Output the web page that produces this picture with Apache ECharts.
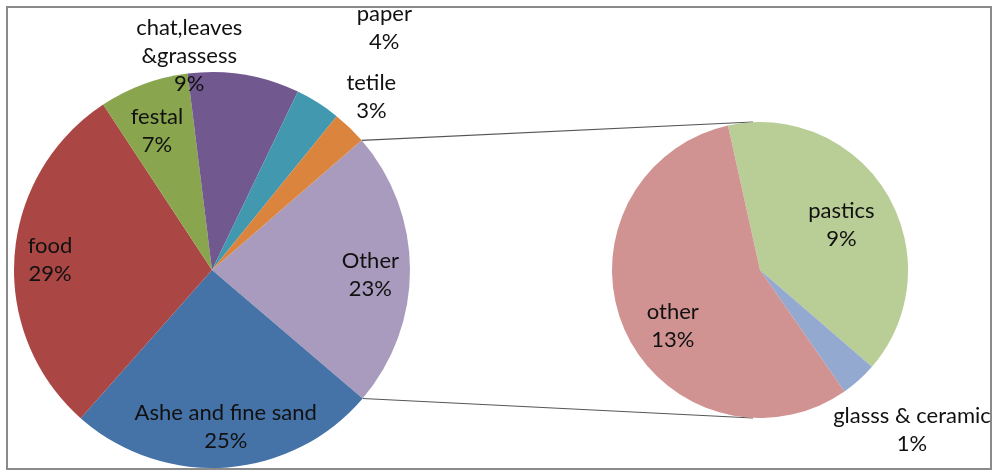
<!DOCTYPE html>
<html>
<head>
<meta charset="utf-8">
<script src="https://cdn.jsdelivr.net/npm/echarts@6/dist/echarts.min.js"></script>
<style>html,body{margin:0;padding:0;background:#fff;}#c{width:994px;height:472px;}</style>
</head>
<body>
<div id="c"></div>
<script>
// ---- data ----
var mainNames = ['Other', 'Ashe and fine sand', 'food', 'festal', 'chat,leaves\n&grassess', 'paper', 'tetile'];
var mainValues = [22.6, 25.3, 29.2, 7.3, 9.1, 3.7, 2.8];
var subNames = ['pastics', 'glasss & ceramic', 'other'];
var subValues = [9.0, 0.9, 12.7];

// ---- styling ----
var mainColors = ['#A99BBD', '#4572A7', '#AA4643', '#89A54E', '#71588F', '#4198AF', '#DB843D'];
var subColors = ['#B9CD96', '#93A9CF', '#D09392'];
// label placement: radius factor, angle shift (deg)
var mainLabelPlace = [[0.8, 2], [0.795, -1], [0.82, -0.5], [0.755, -1.4], [1.086, -15.4], [1.5, 3.1], [1.19, -1.5]];
var subLabelPlace = [[0.63, 1.7], [1.49, -1.6], [0.70, -9]];

var C1 = [212, 270], R1 = 198, START1 = 40.9;   // start angle (math deg)
var C2 = [760, 270], R2 = 148, START2 = 102.5;

function midAngles(vals, start) {
  var tot = vals.reduce(function (a, b) { return a + b; }, 0);
  var acc = 90 - start; // clockwise from top
  return vals.map(function (v) {
    var span = v / tot * 360;
    var m = acc + span / 2;
    acc += span;
    return m;
  });
}
var mainMid = midAngles(mainValues, START1);
var subMid = midAngles(subValues, START2);

function layoutFor(center, R, mids, place) {
  return function (p) {
    var i = p.dataIndex;
    var a = (mids[i] + place[i][1]) * Math.PI / 180;
    var r = R * place[i][0];
    return {
      x: center[0] + r * Math.sin(a),
      y: center[1] - r * Math.cos(a),
      align: 'center',
      verticalAlign: 'middle',
      hideOverlap: false
    };
  };
}

var labelStyle = {
  show: true,
  position: 'inside',
  overflow: 'none',
  fontFamily: 'Lato',
  fontSize: 22,
  lineHeight: 28,
  color: '#111',
  align: 'center'
};

// connector endpoints from data geometry
var totMain = mainValues.reduce(function (a, b) { return a + b; }, 0);
var otherStart = (90 - START1) * Math.PI / 180;
var otherEnd = (90 - START1 + mainValues[0] / totMain * 360) * Math.PI / 180;
var p1 = [C1[0] + R1 * Math.sin(otherStart), C1[1] - R1 * Math.cos(otherStart)];
var p2 = [C1[0] + R1 * Math.sin(otherEnd), C1[1] - R1 * Math.cos(otherEnd)];
var q1 = [C2[0] - 7, C2[1] - R2];
var q2 = [C2[0] - 7, C2[1] + R2];

var chart = echarts.init(document.getElementById('c'));
chart.setOption({
  animation: false,
  backgroundColor: '#fff',
  graphic: [
    { type: 'rect', shape: { x: 7, y: 7, width: 984, height: 462 }, style: { fill: 'none', stroke: '#8a8a8a', lineWidth: 2 }, z: 0 },
    { type: 'line', shape: { x1: p1[0], y1: p1[1], x2: q1[0], y2: q1[1] }, style: { stroke: '#555', lineWidth: 1.2 }, z: 1 },
    { type: 'line', shape: { x1: p2[0], y1: p2[1], x2: q2[0], y2: q2[1] }, style: { stroke: '#555', lineWidth: 1.2 }, z: 1 }
  ],
  series: [
    {
      type: 'pie',
      center: C1,
      radius: R1,
      startAngle: START1,
      clockwise: true,
      percentPrecision: 0,
      avoidLabelOverlap: false,
      label: Object.assign({}, labelStyle, { formatter: '{b}\n{d}%' }),
      labelLine: { show: false },
      labelLayout: layoutFor(C1, R1, mainMid, mainLabelPlace),
      emphasis: { disabled: true },
      data: mainNames.map(function (n, i) {
        return { name: n, value: mainValues[i], itemStyle: { color: mainColors[i] } };
      })
    },
    {
      type: 'pie',
      center: C2,
      radius: R2,
      startAngle: START2,
      clockwise: true,
      avoidLabelOverlap: false,
      label: Object.assign({}, labelStyle, {
        formatter: function (p) { return p.name + '\n' + Math.round(p.value) + '%'; }
      }),
      labelLine: { show: false },
      labelLayout: layoutFor(C2, R2, subMid, subLabelPlace),
      emphasis: { disabled: true },
      data: subNames.map(function (n, i) {
        return { name: n, value: subValues[i], itemStyle: { color: subColors[i] } };
      })
    }
  ]
});
</script>
</body>
</html>
